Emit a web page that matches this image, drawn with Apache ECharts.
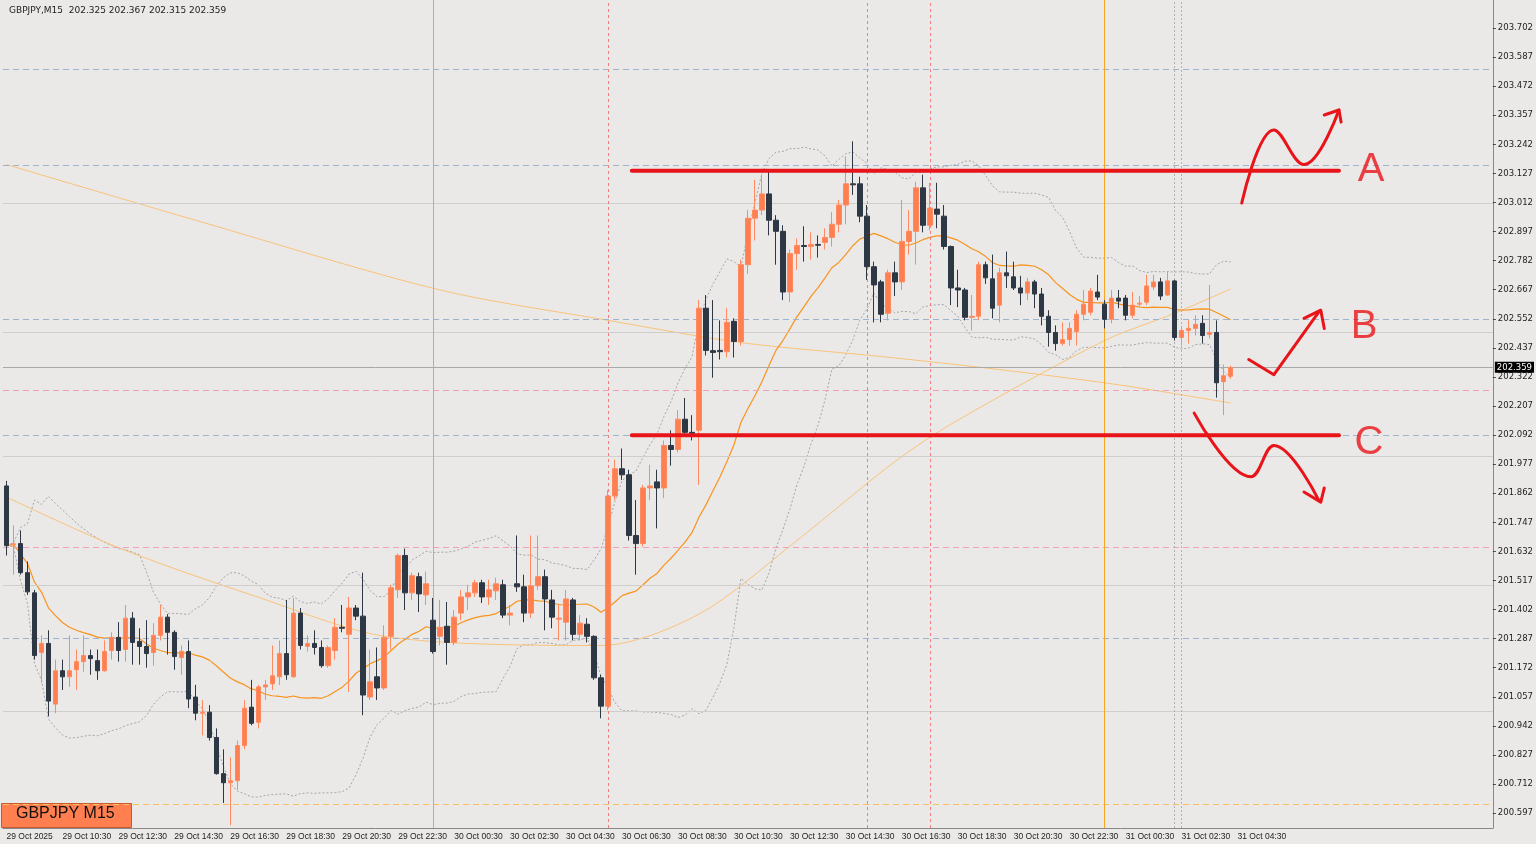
<!DOCTYPE html>
<html>
<head>
<meta charset="utf-8">
<script src="https://cdn.jsdelivr.net/npm/echarts@6/dist/echarts.min.js"></script>
<style>
  html, body { margin: 0; padding: 0; background: #ebe9e7; }
  #chart { width: 1536px; height: 844px; }
</style>
</head>
<body>
<div id="chart"></div>
<script>
// GBPJPY M15, one entry per bar: [open, close, low, high]
let ohlc = [
  [201.891,201.655,201.616,201.911],[201.659,201.662,201.540,201.735],[201.663,201.548,201.540,201.715],[201.548,201.472,201.460,201.592],
  [201.468,201.220,201.204,201.480],[201.232,201.268,201.112,201.300],[201.268,201.040,200.980,201.320],[201.028,201.160,200.992,201.204],
  [201.160,201.136,201.084,201.204],[201.136,201.160,201.096,201.300],[201.164,201.196,201.084,201.244],[201.196,201.220,201.156,201.300],
  [201.220,201.208,201.144,201.244],[201.200,201.160,201.124,201.244],[201.160,201.236,201.156,201.280],[201.240,201.292,201.204,201.312],
  [201.292,201.240,201.196,201.352],[201.244,201.368,201.196,201.420],[201.368,201.272,201.184,201.392],[201.276,201.256,201.184,201.328],
  [201.256,201.228,201.172,201.360],[201.232,201.300,201.180,201.348],[201.300,201.372,201.280,201.420],[201.372,201.312,201.224,201.384],
  [201.312,201.216,201.164,201.320],[201.212,201.236,201.144,201.260],[201.236,201.048,201.012,201.280],[201.056,200.992,200.964,201.104],
  [200.992,200.996,200.904,201.044],[200.996,200.896,200.884,201.024],[200.896,200.753,200.749,200.932],[200.753,200.717,200.637,200.849],
  [200.717,200.725,200.549,200.817],[200.725,200.864,200.689,200.884],[200.864,201.012,200.849,201.044],[201.016,200.952,200.944,201.124],
  [200.956,201.096,200.932,201.104],[201.096,201.104,201.044,201.124],[201.108,201.140,201.084,201.260],[201.136,201.228,201.104,201.280],
  [201.228,201.144,201.124,201.440],[201.136,201.388,201.132,201.448],[201.388,201.260,201.244,201.408],[201.256,201.268,201.236,201.300],
  [201.268,201.252,201.224,201.320],[201.252,201.180,201.172,201.280],[201.180,201.252,201.172,201.260],[201.240,201.332,201.204,201.368],
  [201.332,201.328,201.312,201.420],[201.304,201.408,201.076,201.452],[201.408,201.376,201.360,201.420],[201.376,201.064,200.984,201.548],
  [201.056,201.116,201.044,201.244],[201.136,201.092,201.044,201.252],[201.092,201.292,201.084,201.340],[201.296,201.488,201.244,201.500],
  [201.480,201.616,201.448,201.624],[201.616,201.468,201.400,201.643],[201.468,201.536,201.440,201.548],[201.532,201.464,201.392,201.548],
  [201.460,201.504,201.420,201.552],[201.360,201.236,201.228,201.448],[201.296,201.332,201.260,201.440],[201.336,201.272,201.184,201.432],
  [201.272,201.372,201.260,201.400],[201.388,201.452,201.360,201.480],[201.452,201.468,201.400,201.500],[201.468,201.508,201.452,201.520],
  [201.508,201.452,201.428,201.520],[201.452,201.480,201.420,201.520],[201.476,201.504,201.440,201.528],[201.500,201.380,201.368,201.520],
  [201.380,201.388,201.340,201.420],[201.504,201.492,201.472,201.695],[201.492,201.388,201.352,201.540],[201.388,201.496,201.368,201.695],
  [201.496,201.532,201.480,201.695],[201.532,201.444,201.320,201.560],[201.440,201.372,201.328,201.480],[201.364,201.368,201.280,201.420],
  [201.352,201.444,201.280,201.480],[201.440,201.304,201.280,201.448],[201.304,201.348,201.280,201.380],[201.344,201.296,201.272,201.368],
  [201.296,201.132,201.124,201.300],[201.132,201.020,200.972,201.144],[201.020,201.851,201.004,201.875],[201.851,201.959,201.835,201.995],
  [201.959,201.935,201.915,202.039],[201.935,201.695,201.675,201.955],[201.695,201.663,201.540,201.835],[201.663,201.883,201.651,201.895],
  [201.883,201.891,201.835,201.975],[201.907,201.883,201.723,201.955],[201.883,202.051,201.843,202.071],[202.051,202.035,201.971,202.111],
  [202.035,202.155,202.023,202.191],[202.155,202.103,202.091,202.239],[202.103,202.099,202.071,202.171],[202.111,202.594,201.895,202.626],
  [202.594,202.427,202.407,202.646],[202.426,202.419,202.319,202.626],[202.427,202.422,202.391,202.546],[202.422,202.538,202.399,202.594],
  [202.542,202.462,202.399,202.554],[202.462,202.766,202.446,202.786],[202.766,202.950,202.730,202.982],[202.950,202.982,202.862,203.102],
  [202.982,203.046,202.962,203.122],[203.046,202.942,202.882,203.134],[202.942,202.898,202.766,202.962],[202.898,202.658,202.626,202.922],
  [202.658,202.810,202.618,202.826],[202.810,202.842,202.746,202.870],[202.842,202.838,202.778,202.918],[202.838,202.846,202.786,202.894],
  [202.846,202.843,202.794,202.882],[202.854,202.874,202.826,202.910],[202.874,202.926,202.838,202.974],[202.926,203.002,202.894,203.022],
  [203.002,203.086,202.926,203.194],[203.086,203.082,203.042,203.254],[203.086,202.958,202.934,203.114],[202.958,202.758,202.706,203.002],
  [202.758,202.686,202.538,202.778],[202.698,202.570,202.538,202.706],[202.574,202.734,202.546,202.746],[202.734,202.698,202.642,202.778],
  [202.698,202.858,202.666,203.022],[202.858,202.898,202.806,202.982],[202.898,203.070,202.766,203.094],[203.070,202.922,202.894,203.122],
  [202.922,202.990,202.902,203.090],[202.986,202.966,202.910,203.090],[202.958,202.838,202.826,203.002],[202.838,202.674,202.606,202.842],
  [202.674,202.666,202.598,202.746],[202.666,202.558,202.546,202.674],[202.558,202.562,202.506,202.646],[202.562,202.766,202.546,202.778],
  [202.766,202.714,202.690,202.778],[202.710,202.594,202.554,202.806],[202.606,202.734,202.538,202.754],[202.734,202.722,202.674,202.818],
  [202.718,202.674,202.666,202.778],[202.674,202.654,202.606,202.722],[202.654,202.698,202.626,202.714],[202.698,202.650,202.594,202.706],
  [202.650,202.562,202.526,202.674],[202.562,202.498,202.442,202.586],[202.498,202.454,202.426,202.526],[202.454,202.470,202.446,202.538],
  [202.470,202.514,202.446,202.538],[202.502,202.570,202.446,202.586],[202.570,202.610,202.546,202.666],[202.578,202.662,202.566,202.674],
  [202.658,202.638,202.626,202.726],[202.610,202.550,202.514,202.626],[202.550,202.634,202.534,202.666],[202.634,202.622,202.594,202.666],
  [202.634,202.566,202.546,202.646],[202.566,202.606,202.554,202.658],[202.610,202.614,202.602,202.642],[202.618,202.682,202.606,202.726],
  [202.678,202.698,202.666,202.726],[202.698,202.642,202.626,202.714],[202.646,202.702,202.642,202.738],[202.702,202.478,202.466,202.706],
  [202.478,202.506,202.446,202.518],[202.506,202.514,202.454,202.546],[202.514,202.530,202.486,202.566],[202.534,202.486,202.454,202.566],
  [202.490,202.498,202.474,202.686],[202.498,202.299,202.240,202.546],[202.303,202.327,202.171,202.371],[202.325,202.359,202.315,202.367]
]

// time labels, one every 8 bars
let timeLabels = ['29 Oct 2025', '29 Oct 10:30', '29 Oct 12:30', '29 Oct 14:30', '29 Oct 16:30', '29 Oct 18:30',
  '29 Oct 20:30', '29 Oct 22:30', '30 Oct 00:30', '30 Oct 02:30', '30 Oct 04:30', '30 Oct 06:30', '30 Oct 08:30',
  '30 Oct 10:30', '30 Oct 12:30', '30 Oct 14:30', '30 Oct 16:30', '30 Oct 18:30', '30 Oct 20:30', '30 Oct 22:30',
  '31 Oct 00:30', '31 Oct 02:30', '31 Oct 04:30']

let priceTicks = [200.597, 200.712, 200.827, 200.942, 201.057, 201.172, 201.287, 201.402, 201.517, 201.632,
  201.747, 201.862, 201.977, 202.092, 202.207, 202.322, 202.437, 202.552, 202.667, 202.782, 202.897, 203.012,
  203.127, 203.242, 203.357, 203.472, 203.587, 203.702]

// slow moving averages at a few bars: [bar, price]
let slowMaA = [[0, 203.162], [28, 202.934], [62, 202.666], [86, 202.546], [105, 202.458], [125, 202.403], [142, 202.351], [159, 202.291], [175, 202.219]]
let slowMaB = [[0, 201.847], [16, 201.647], [35, 201.460], [55, 201.292], [85, 201.260], [99, 201.384], [113, 201.675], [127, 201.987], [136, 202.151], [157, 202.466], [167, 202.574], [175, 202.670]]

// levels and hand drawn marks
let levelA = 203.138
let levelC = 202.091
let levelStart = 89.4
let levelEnd = 190.5
let arrowA = [[176.6, 203.010], [181.2, 203.299], [185.5, 203.162], [190.5, 203.378]]
let arrowAHead = [[188.4, 203.358], [190.5, 203.378], [190.8, 203.330]]
let arrowB = [[177.6, 202.391], [181.2, 202.331], [187.6, 202.578]]
let arrowBHead = [[185.5, 202.554], [187.9, 202.586], [188.4, 202.514]]
let arrowC = [[169.8, 202.179], [177.9, 201.927], [181.2, 202.051], [187.6, 201.835]]
let arrowCHead = [[185.5, 201.867], [187.9, 201.827], [188.4, 201.883]]
let letters = [[195.1, 203.14, 'A'], [194.1, 202.52, 'B'], [194.8, 202.06, 'C']]

let blueLevels = [203.544, 203.162, 202.546, 202.091, 201.292]
let pinkLevels = [202.271, 201.651]
let greyLevels = [203.006, 202.498, 202.007, 201.504, 200.996]
let redVLines = [86, 123, 132]
let orangeVLines = [61.07, 157]
let greyVLines = [167, 168]
let lastPrice = 202.359

let nCats = 213
let categories = []
for (let i = 0; i < nCats; i++) {
  categories.push(i % 8 === 0 && i / 8 < timeLabels.length ? timeLabels[i / 8] : '')
}

let closes = ohlc.map(function (d) { return d[1] })
let ma20 = [], bbUp = [], bbDn = []
for (let i = 0; i < closes.length; i++) {
  let w = closes.slice(Math.max(0, i - 19), i + 1)
  let m = w.reduce(function (a, b) { return a + b }, 0) / w.length
  let sd = Math.sqrt(w.reduce(function (a, b) { return a + (b - m) * (b - m) }, 0) / w.length)
  ma20.push(+m.toFixed(3))
  bbUp.push(+(m + 2 * sd).toFixed(3))
  bbDn.push(+(m - 2 * sd).toFixed(3))
}

function hLines(vals, color, type) {
  return vals.map(function (v) { return {yAxis: v, lineStyle: {color: color, type: type, width: 1}} })
}
// one holder series per group of vertical lines
function vLineSeries(vals, color, type) {
  return {
    type: 'line', xAxisIndex: 1, data: [], z: 2,
    markLine: {
      symbol: 'none', silent: true, animation: false, label: {show: false},
      lineStyle: {color: color, type: type, width: 1, opacity: 1},
      data: vals.map(function (v) { return {xAxis: v} })
    }
  }
}
function redLine(data, w) {
  return {
    type: 'line', xAxisIndex: 1, data: data, smooth: data.length > 3 ? 0.4 : false,
    symbol: 'none', silent: true, z: 10,
    lineStyle: {color: '#e8141a', width: w, cap: 'round', join: 'round'}
  }
}

let chart = echarts.init(document.getElementById('chart'))
let option = {
  backgroundColor: '#ebe9e7',
  animation: false,
  textStyle: {fontFamily: 'Liberation Sans'},
  title: {
    text: 'GBPJPY,M15  202.325 202.367 202.315 202.359',
    left: 4, top: 1,
    textStyle: {fontSize: 9, fontWeight: 'normal', color: '#222', fontFamily: 'DejaVu Sans'}
  },
  grid: {left: 3, right: 42, top: 0, bottom: 16},
  xAxis: [
    {
      type: 'category', data: categories, boundaryGap: true,
      axisLine: {onZero: false, lineStyle: {color: '#888'}},
      axisTick: {show: false},
      axisLabel: {
        interval: function (i) { return i % 8 === 0 && i <= 176 },
        fontSize: 8.5, color: '#222', margin: 4, align: 'left'
      },
      splitLine: {show: false}
    },
    {type: 'value', min: -0.5, max: nCats - 0.5, show: false}
  ],
  yAxis: {
    type: 'value', position: 'right', min: 200.538, max: 203.813, scale: true,
    axisLine: {show: true, onZero: false, lineStyle: {color: '#888'}},
    axisTick: {show: true, customValues: priceTicks, length: 3, lineStyle: {color: '#444'}},
    axisLabel: {customValues: priceTicks, fontSize: 8.5, color: '#222', margin: 5, fontFamily: 'DejaVu Sans', formatter: function (v) { return v.toFixed(3) }},
    splitLine: {show: false}
  },
  graphic: [
    {type: 'rect', left: 1, top: 803, shape: {width: 130, height: 24}, style: {fill: '#ff7f50', stroke: '#c85a30'}},
    {type: 'text', left: 16, top: 806, style: {text: 'GBPJPY M15', fontSize: 16, fill: '#111', fontFamily: 'Liberation Sans'}}
  ],
  series: [
    {
      type: 'candlestick', data: ohlc, barWidth: 5, z: 5,
      itemStyle: {color: '#ff7f50', color0: '#2e3845', borderColor: '#ff8a60', borderColor0: '#2e3845', borderWidth: 1},
      markLine: {
        symbol: 'none', silent: true, animation: false,
        label: {show: false},
        data: [].concat(
          hLines(blueLevels, '#9db4cc', [6, 4]),
          hLines(pinkLevels, '#f0a0b8', [6, 4]),
          hLines([200.625], '#f5c060', [6, 4]),
          hLines(greyLevels, '#d0cecc', 'solid'),
          [{
            yAxis: lastPrice, lineStyle: {color: '#a8a8a8', type: 'solid', width: 1},
            label: {show: true, position: 'end', formatter: lastPrice.toFixed(3), backgroundColor: '#000', color: '#fff', fontSize: 8.5, padding: [1, 2], distance: 2, fontFamily: 'DejaVu Sans'}
          }]
        )
      }
    },
    vLineSeries(orangeVLines, '#f5a623', 'solid'),
    vLineSeries(redVLines, '#ee8080', [3, 3]),
    vLineSeries(greyVLines, '#b0b0b0', [2, 2]),
    {type: 'line', data: ma20, symbol: 'none', lineStyle: {color: '#f7941d', width: 1.2}, z: 4},
    {type: 'line', data: bbUp, symbol: 'none', lineStyle: {color: '#a3a3ad', width: 1, type: [2, 2]}, z: 3},
    {type: 'line', data: bbDn, symbol: 'none', lineStyle: {color: '#a3a3ad', width: 1, type: [2, 2]}, z: 3},
    {type: 'line', xAxisIndex: 1, data: slowMaA, smooth: 0.3, symbol: 'none', lineStyle: {color: '#f9c37a', width: 1}, z: 3},
    {type: 'line', xAxisIndex: 1, data: slowMaB, smooth: 0.3, symbol: 'none', lineStyle: {color: '#f9c37a', width: 1}, z: 3},
    redLine([[levelStart, levelA], [levelEnd, levelA]], 4),
    redLine([[levelStart, levelC], [levelEnd, levelC]], 4),
    redLine(arrowA, 3), redLine(arrowAHead, 3),
    redLine(arrowB, 3), redLine(arrowBHead, 3),
    redLine(arrowC, 3), redLine(arrowCHead, 3),
    {
      type: 'scatter', xAxisIndex: 1, symbolSize: 0, silent: true, z: 10,
      data: letters.map(function (l) { return {value: [l[0], l[1]], name: l[2]} }),
      label: {show: true, position: 'inside', formatter: '{b}', fontSize: 40, color: '#e8141a', fontFamily: 'Liberation Sans'}
    }
  ]
}
chart.setOption(option)
</script>
</body>
</html>
